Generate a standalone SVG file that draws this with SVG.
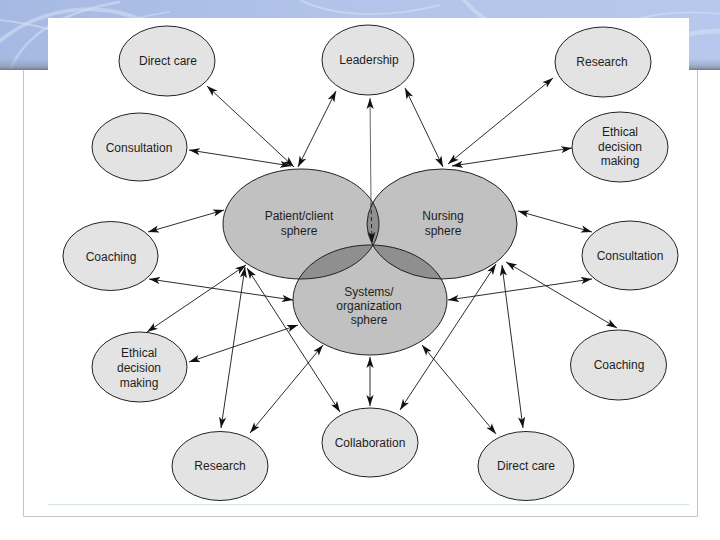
<svg xmlns="http://www.w3.org/2000/svg" width="720" height="540" viewBox="0 0 720 540">
<defs>
<style>
.node ellipse{fill:#e3e3e3;stroke:#222;stroke-width:1}
.sph{fill:#c1c1c1}
.ov{fill:#8f8f8f}
.sphs{fill:none;stroke:#222;stroke-width:1}
text{font-family:"Liberation Sans",Arial,sans-serif;font-size:12px;fill:#1e1e1e;text-anchor:middle}
.cn line{stroke:#151515;stroke-width:0.9;marker-start:url(#ah);marker-end:url(#ah)}
</style>
<marker id="ah" viewBox="0 0 11 8" refX="11" refY="4" markerWidth="11" markerHeight="8" markerUnits="userSpaceOnUse" orient="auto-start-reverse">
<path d="M0,0.4 L11,4 L0,7.6 L2.8,4 z" fill="#111"/>
</marker>
<linearGradient id="hdr" x1="0" y1="0" x2="1" y2="0">
<stop offset="0" stop-color="#a5b9e2"/>
<stop offset="0.5" stop-color="#b2c4e9"/>
<stop offset="1" stop-color="#b7c8ec"/>
</linearGradient>
<linearGradient id="shd" x1="0" y1="0" x2="0" y2="1">
<stop offset="0" stop-color="#9aa6bd" stop-opacity="0"/>
<stop offset="0.7" stop-color="#8a93a5" stop-opacity="0.6"/>
<stop offset="1" stop-color="#6c707a" stop-opacity="0.9"/>
</linearGradient>
<clipPath id="cpP"><ellipse cx="301" cy="224" rx="78" ry="55"/></clipPath>
<clipPath id="cpN"><ellipse cx="442" cy="224" rx="75" ry="55"/></clipPath>
</defs>

<rect x="0" y="0" width="720" height="540" fill="#ffffff"/>
<g id="header">
<rect x="0" y="0" width="720" height="70" fill="url(#hdr)"/>
<g fill="none" stroke="#d2def3" stroke-opacity="0.6">
<path d="M-10,50 C40,0 120,-5 175,40" stroke-width="4"/>
<path d="M10,70 C25,35 60,12 120,2" stroke-width="2.5"/>
<path d="M60,70 C80,40 110,20 170,12" stroke-width="1.5"/>
<path d="M0,20 C50,25 90,40 120,70" stroke-width="2"/>
<path d="M300,0 C330,15 380,20 440,5" stroke-width="2"/>
<path d="M460,-5 C490,35 550,55 630,35" stroke-width="4"/>
<path d="M560,70 C590,25 650,5 730,15" stroke-width="2"/>
<path d="M640,70 C660,40 690,28 730,32" stroke-width="5"/>
</g>
<rect x="0" y="58" width="720" height="12" fill="url(#shd)"/>
</g>
<path d="M23.5,70 V516.5 H697.5 V70" fill="none" stroke="#c4c4c4" stroke-width="1"/>
<rect x="48" y="18" width="641" height="487" fill="#ffffff"/>
<line x1="48" y1="504.5" x2="689" y2="504.5" stroke="#d6e2ea" stroke-width="1"/>

<g id="spheres">
<g id="patient"><ellipse class="sph" cx="301" cy="224" rx="78" ry="55"/></g>
<g id="nursing"><ellipse class="sph" cx="442" cy="224" rx="75" ry="55"/></g>
<g id="systems"><ellipse class="sph" cx="370" cy="300" rx="77" ry="55"/></g>
<ellipse class="ov" cx="370" cy="300" rx="77" ry="55" clip-path="url(#cpP)"/>
<ellipse class="ov" cx="370" cy="300" rx="77" ry="55" clip-path="url(#cpN)"/>
<ellipse class="ov" cx="442" cy="224" rx="75" ry="55" clip-path="url(#cpP)"/>
<ellipse class="sphs" cx="301" cy="224" rx="78" ry="55"/>
<ellipse class="sphs" cx="442" cy="224" rx="75" ry="55"/>
<ellipse class="sphs" cx="370" cy="300" rx="77" ry="55"/>
<text x="299" y="220">Patient/client</text>
<text x="299" y="235">sphere</text>
<text x="443" y="220">Nursing</text>
<text x="443" y="235">sphere</text>
<text x="369" y="296">Systems/</text>
<text x="369" y="310">organization</text>
<text x="369" y="324">sphere</text>
</g>

<g id="n-directcare-top" class="node"><ellipse cx="167" cy="61" rx="48" ry="35"/><text x="168" y="65">Direct care</text></g>
<g id="n-leadership" class="node"><ellipse cx="368" cy="60" rx="46" ry="35"/><text x="369" y="64">Leadership</text></g>
<g id="n-research-top" class="node"><ellipse cx="603" cy="62" rx="48" ry="35"/><text x="602" y="66">Research</text></g>
<g id="n-consultation-left" class="node"><ellipse cx="139.5" cy="147" rx="47.5" ry="34"/><text x="139" y="152">Consultation</text></g>
<g id="n-ethical-right" class="node"><ellipse cx="620" cy="147" rx="48" ry="35"/><text x="620" y="136">Ethical</text><text x="620" y="151">decision</text><text x="620" y="165">making</text></g>
<g id="n-coaching-left" class="node"><ellipse cx="110.5" cy="256" rx="47.5" ry="34.5"/><text x="111" y="261">Coaching</text></g>
<g id="n-consultation-right" class="node"><ellipse cx="630" cy="255.5" rx="48" ry="34.5"/><text x="630" y="260">Consultation</text></g>
<g id="n-ethical-left" class="node"><ellipse cx="139.5" cy="367" rx="47.5" ry="35"/><text x="139" y="357">Ethical</text><text x="139" y="372">decision</text><text x="139" y="387">making</text></g>
<g id="n-coaching-right" class="node"><ellipse cx="618.5" cy="365" rx="48" ry="35"/><text x="619" y="369">Coaching</text></g>
<g id="n-research-bottom" class="node"><ellipse cx="220" cy="466" rx="48" ry="34.5"/><text x="220" y="470">Research</text></g>
<g id="n-collaboration" class="node"><ellipse cx="370" cy="442.5" rx="48" ry="34.5"/><text x="370" y="447">Collaboration</text></g>
<g id="n-directcare-bottom" class="node"><ellipse cx="526" cy="466" rx="48" ry="34.5"/><text x="526" y="470">Direct care</text></g>

<g id="connectors" class="cn">
<line x1="207" y1="86" x2="294" y2="167"/>
<line x1="336" y1="91" x2="298" y2="167"/>
<line x1="189" y1="150" x2="291" y2="166"/>
<line x1="148" y1="232" x2="224" y2="210"/>
<line x1="149" y1="279" x2="293" y2="300"/>
<line x1="147" y1="332" x2="246" y2="265"/>
<line x1="189" y1="362" x2="298" y2="325"/>
<line x1="221" y1="428" x2="245" y2="267"/>
<line x1="250" y1="433" x2="323" y2="345"/>
<line x1="247" y1="268" x2="340" y2="412"/>
<line x1="370" y1="357" x2="370" y2="406"/>
<line x1="400" y1="410" x2="496" y2="264"/>
<line x1="496" y1="434" x2="422" y2="345"/>
<line x1="523" y1="428" x2="502" y2="265"/>
<line x1="518" y1="211" x2="592" y2="232"/>
<line x1="592" y1="279" x2="448" y2="300"/>
<line x1="506" y1="262" x2="617" y2="328"/>
<line x1="553" y1="78" x2="448" y2="164"/>
<line x1="572" y1="148" x2="452" y2="166"/>
<line x1="405" y1="88" x2="443" y2="167"/>
<line x1="370" y1="98" x2="371" y2="203" style="stroke:#555;marker-end:none"/>
<line x1="371" y1="203" x2="372" y2="243" style="stroke-dasharray:4 3;marker-start:none"/>
</g>
</svg>
